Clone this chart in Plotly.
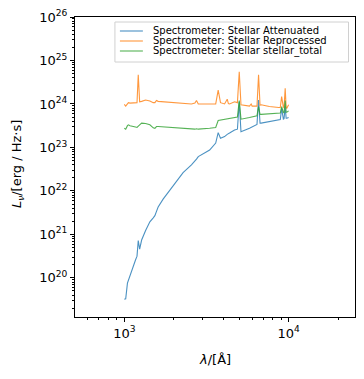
import plotly.graph_objects as go

# Wavelength grid (Angstrom)
wavelength = [1000, 1020, 1045, 1060, 1083, 1134, 1170, 1195, 1216, 1240, 1275, 1348, 1431,
              1500, 1535, 1570, 1607, 1723, 1848, 2029, 2279, 2562, 2690, 2750, 2820, 3307,
              3600, 3727, 3850, 4076, 4230, 4300, 4371, 4688, 4880, 5007, 5130, 5779, 5919,
              6000, 6346, 6420, 6563, 6700, 6803, 7638, 8710, 8900, 9069, 9200, 9290, 9380,
              9532, 9660, 9750, 10000]

# log10 of luminosity values
log_attenuated = [19.51, 19.52, 19.88, 19.95, 20.07, 20.30, 20.41, 20.50, 20.86, 20.66, 20.87, 21.09, 21.29,
                  21.38, 21.43, 21.53, 21.63, 21.81, 21.96, 22.18, 22.42, 22.60, 22.68, 22.73, 22.79, 22.94,
                  23.10, 23.34, 23.21, 23.25, 23.30, 23.31, 23.33, 23.40, 23.42, 24.05, 23.36, 23.44, 23.46,
                  23.47, 23.52, 23.53, 24.09, 23.56, 23.56, 23.59, 23.63, 23.64, 23.90, 23.65, 23.65, 23.66,
                  23.94, 23.67, 23.67, 23.69]
log_reprocessed = [23.99, 23.95, 24.00, 24.03, 24.02, 24.03, 24.03, 24.03, 24.67, 24.05, 24.06, 24.09, 24.07,
                   24.03, 24.03, 24.08, 24.06, 24.05, 24.04, 24.03, 24.01, 24.00, 24.02, 24.08, 24.00, 24.00,
                   24.00, 24.32, 24.03, 24.00, 24.11, 24.01, 24.00, 24.05, 24.03, 24.74, 23.98, 23.95, 24.00,
                   23.95, 23.94, 23.95, 24.67, 23.97, 23.98, 23.94, 23.92, 23.92, 24.17, 23.92, 23.92, 23.93,
                   24.36, 23.91, 23.90, 23.98]
log_total = [23.44, 23.42, 23.50, 23.52, 23.50, 23.49, 23.47, 23.46, 23.50, 23.52, 23.56, 23.55, 23.52,
             23.45, 23.44, 23.48, 23.48, 23.47, 23.46, 23.46, 23.43, 23.42, 23.42, 23.43, 23.42, 23.44,
             23.46, 23.62, 23.63, 23.65, 23.66, 23.67, 23.67, 23.69, 23.70, 24.08, 23.65, 23.69, 23.70,
             23.70, 23.72, 23.73, 23.94, 23.76, 23.76, 23.78, 23.79, 23.79, 23.94, 23.80, 23.80, 23.80,
             24.08, 23.81, 23.81, 23.84]

series_names = ["Spectrometer: Stellar Attenuated",
                "Spectrometer: Stellar Reprocessed",
                "Spectrometer: Stellar stellar_total"]
series_colors = ["#1f77b4", "#ff7f0e", "#2ca02c"]

x_tick_exps = [3, 4]
y_tick_exps = [20, 21, 22, 23, 24, 25, 26]

series_values = [[10.0 ** v for v in log_attenuated],
                 [10.0 ** v for v in log_reprocessed],
                 [10.0 ** v for v in log_total]]

FONT = "DejaVu Sans"
fig = go.Figure()
for name, col, vals in zip(series_names, series_colors, series_values):
    fig.add_trace(go.Scatter(x=wavelength, y=vals, mode="lines", name=name,
                             line=dict(color=col, width=1.1), opacity=0.8,
                             showlegend=False))

def minor_vals(exps_lo, exps_hi):
    out = []
    for e in range(exps_lo, exps_hi + 1):
        for m in range(2, 10):
            out.append(float(m) * 10.0 ** e)
    return out

axis_common = dict(showgrid=False, zeroline=False, showline=True, linecolor="black",
                   linewidth=1, mirror=True, ticks="outside", ticklen=4, tickwidth=1,
                   tickcolor="black", automargin=False,
                   tickfont=dict(family=FONT, size=13, color="black"))

fig.update_xaxes(type="log", range=[2.70, 4.404],
                 tickmode="array",
                 tickvals=[10.0 ** e for e in x_tick_exps],
                 ticktext=[f"10<sup>{e}</sup>" for e in x_tick_exps],
                 minor=dict(tickmode="array", tickvals=minor_vals(2, 4), ticks="outside",
                            ticklen=2, tickcolor="black", showgrid=False),
                 **axis_common)
fig.update_yaxes(type="log", range=[19.1, 26.0],
                 tickmode="array",
                 tickvals=[10.0 ** e for e in y_tick_exps],
                 ticktext=[f"10<sup>{e}</sup>" for e in y_tick_exps],
                 minor=dict(tickmode="array", tickvals=minor_vals(19, 25), ticks="outside",
                            ticklen=2, tickcolor="black", showgrid=False),
                 **axis_common)

# page body has an 8px default margin; lay out in window pixels then offset
OFF = 8
W, H = 364 - OFF, 379 - OFF
PL, PR, PT, PB = 75, 355.5, 17, 317      # plot area in window pixels
L, T = PL - OFF, PT - OFF
R, B = W - (PR - OFF), H - (PB - OFF)
pw, ph = PR - PL, PB - PT

def px(xp):
    return (xp - PL) / pw

def py(yp):
    return (PB - yp) / ph

shapes = [dict(type="rect", xref="paper", yref="paper", x0=px(115), x1=px(349),
               y0=py(62), y1=py(22), line=dict(color="#d0d0d0", width=1),
               fillcolor="rgba(255,255,255,0.8)", layer="above")]
annotations = []
for i, (name, col) in enumerate(zip(series_names, series_colors)):
    yy = 31 + 10 * i
    shapes.append(dict(type="line", xref="paper", yref="paper", x0=px(120), x1=px(143),
                       y0=py(yy), y1=py(yy), line=dict(color=col, width=1.1), opacity=0.8,
                       layer="above"))
    annotations.append(dict(xref="paper", yref="paper", x=px(151), y=py(yy), text=name,
                            showarrow=False, xanchor="left", yanchor="middle",
                            font=dict(family=FONT, size=10, color="black")))

annotations.append(dict(xref="paper", yref="paper", x=px(215), y=py(359),
                        text="<i>λ</i>/[Å]", showarrow=False, xanchor="center",
                        yanchor="middle", font=dict(family=FONT, size=13, color="black")))
annotations.append(dict(xref="paper", yref="paper", x=px(17), y=py(164),
                        text="<i>L</i><sub><i>ν</i></sub>/[erg / Hz·s]", showarrow=False,
                        xanchor="center", yanchor="middle", textangle=-90,
                        font=dict(family=FONT, size=13, color="black")))

fig.update_layout(width=W, height=H, margin=dict(l=L, r=R, t=T, b=B, autoexpand=False),
                  paper_bgcolor="white", plot_bgcolor="white",
                  shapes=shapes, annotations=annotations, showlegend=False,
                  font=dict(family=FONT, size=13, color="black"))

fig.write_html("out.html")
